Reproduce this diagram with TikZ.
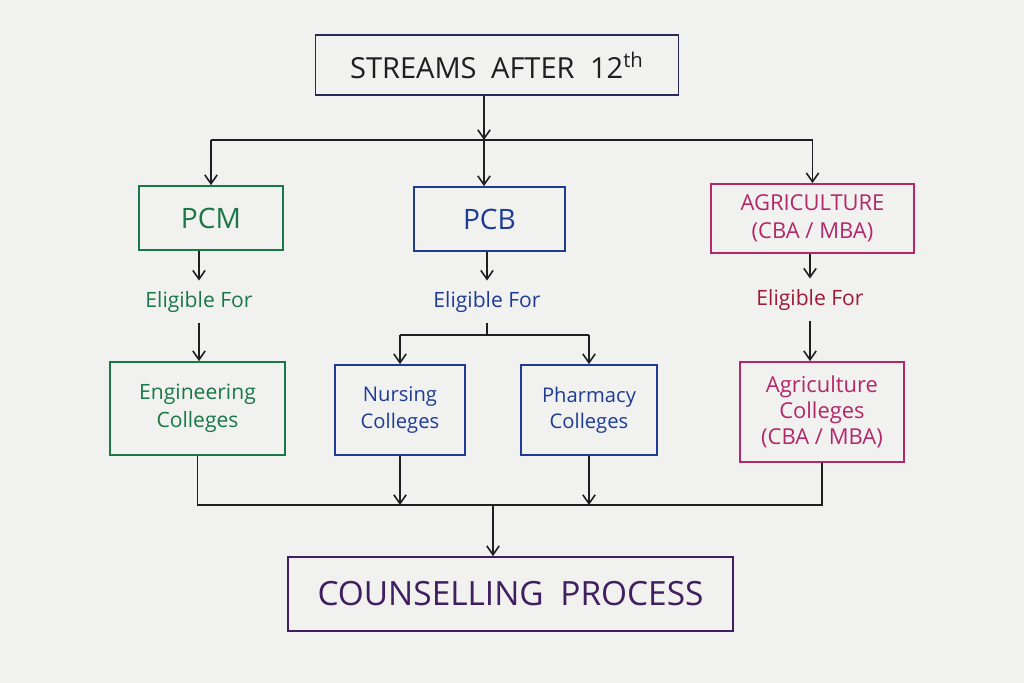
\documentclass[tikz,border=0pt]{standalone}
\usepackage{fontspec}
\setmainfont{Open Sans}
\usetikzlibrary{arrows.meta}

\definecolor{paper}{RGB}{241,241,239}
\definecolor{ink}{RGB}{30,30,35}
\definecolor{navy}{RGB}{40,40,95}
\definecolor{pcmgreen}{RGB}{25,120,70}
\definecolor{pcbblue}{RGB}{30,60,150}
\definecolor{agrimag}{RGB}{180,40,105}
\definecolor{agrired}{RGB}{160,25,55}
\definecolor{counsel}{RGB}{65,30,95}

\tikzset{
    box/.style={draw, line width=1pt, align=center, inner sep=2pt},
    elig/.style={inner sep=6pt, font=\fontsize{12}{14}\selectfont},
    line/.style={draw=ink, line width=0.9pt},
    link/.style={line, -{Straight Barb[length=5pt,width=7pt]}}
}

\begin{document}
\begin{tikzpicture}
    \fill[paper] (0, 0) rectangle (20.48, 13.66);
    % boxes
    \node[box, draw=navy, text=ink, minimum width=7.26cm, minimum height=1.2cm,
	font=\fontsize{16.5}{19}\selectfont] (top) at (9.94, 12.36)
	{STREAMS\enspace AFTER\; 12\textsuperscript{th}};
    \node[box, draw=pcmgreen, text=pcmgreen, minimum width=2.88cm, minimum height=1.28cm,
	font=\fontsize{16}{19}\selectfont] (pcm) at (4.22, 9.3) {PCM};
    \node[box, draw=pcbblue, text=pcbblue, minimum width=3.02cm, minimum height=1.28cm,
	font=\fontsize{16}{19}\selectfont] (pcb) at (9.79, 9.28) {PCB};
    \node[box, draw=agrimag, text=agrimag, minimum width=4.06cm, minimum height=1.38cm,
	font=\fontsize{12.5}{16}\selectfont] (agri) at (16.25, 9.29)
	{AGRICULTURE\\(CBA / MBA)};
    \node[elig, text=pcmgreen] (pcmfor) at (3.98, 7.62) {Eligible For};
    \node[elig, text=pcbblue] (pcbfor) at (9.74, 7.62) {Eligible For};
    \node[elig, text=agrired] (agrifor) at (16.2, 7.66) {Eligible For};
    \node[box, draw=pcmgreen, text=pcmgreen, minimum width=3.5cm, minimum height=1.86cm,
	font=\fontsize{12}{16}\selectfont] (eng) at (3.95, 5.49)
	{Engineering\\Colleges};
    \node[box, draw=pcbblue, text=pcbblue, minimum width=2.6cm, minimum height=1.8cm,
	font=\fontsize{11.5}{15}\selectfont] (nurs) at (8.0, 5.46)
	{Nursing\\Colleges};
    \node[box, draw=pcbblue, text=pcbblue, minimum width=2.72cm, minimum height=1.8cm,
	font=\fontsize{11.5}{15}\selectfont] (pharm) at (11.78, 5.46)
	{Pharmacy\\Colleges};
    \node[box, draw=agrimag, text=agrimag, minimum width=3.28cm, minimum height=2cm,
	font=\fontsize{12.5}{15}\selectfont] (agricol) at (16.44, 5.42)
	{Agriculture\\Colleges\\(CBA / MBA)};
    \node[box, draw=counsel, text=counsel, minimum width=8.9cm, minimum height=1.48cm,
	font=\fontsize{19}{22}\selectfont] (couns) at (10.21, 1.78)
	{COUNSELLING\enspace PROCESS};
    % top fork
    \coordinate (split) at (9.68, 10.86);
    \draw[link] (top.south -| split) -- (split);
    \draw[line] (pcm.north |- split) -- (agri.north |- split);
    \draw[link] (pcm.north |- split) -- (pcm.north);
    \draw[link] (split) -- (pcb.north -| split);
    \draw[link] (agri.north |- split) -- (agri.north);
    % eligible for
    \draw[link] (pcm.south -| pcmfor) -- (pcmfor);
    \draw[link] (pcmfor) -- (pcmfor |- eng.north);
    \draw[link] (pcb.south -| pcbfor) -- (pcbfor);
    \draw[link] (agri.south -| agrifor) -- (agrifor);
    \draw[link] (agrifor) -- (agrifor |- agricol.north);
    \coordinate (pcbsplit) at (9.74, 6.96);
    \draw[line] (pcbfor.south) -- (pcbsplit);
    \draw[line] (nurs.north |- pcbsplit) -- (pharm.north |- pcbsplit);
    \draw[link] (nurs.north |- pcbsplit) -- (nurs.north);
    \draw[link] (pharm.north |- pcbsplit) -- (pharm.north);
    % merge
    \coordinate (merge) at (9.86, 3.56);
    \draw[line] (eng.south) -- (eng.south |- merge) -- (agricol.south |- merge)
	-- (agricol.south);
    \draw[link] (nurs.south) -- (nurs.south |- merge);
    \draw[link] (pharm.south) -- (pharm.south |- merge);
    \draw[link] (merge) -- (merge |- couns.north);
\end{tikzpicture}
\end{document}
